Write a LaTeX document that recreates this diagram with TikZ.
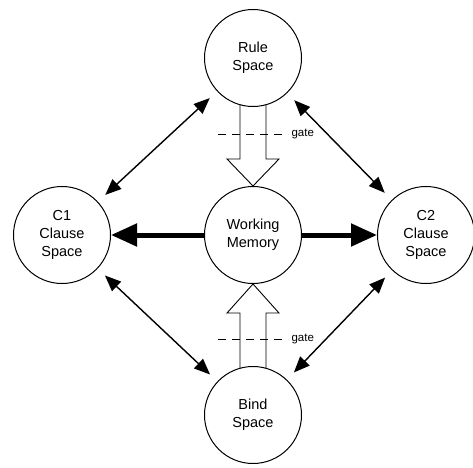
\documentclass[tikz,border=0pt]{standalone}
\usepackage{fontspec}
\setmainfont{Liberation Sans}
\usetikzlibrary{arrows.meta,calc}

\begin{document}
\begin{tikzpicture}[x=1pt,y=1pt,
  space/.style={circle,draw,line width=1pt,minimum size=97pt,inner sep=0pt,
                align=center,font=\fontsize{14.5}{18}\selectfont},
  link/.style={{Triangle[length=16pt,width=13pt]}-{Triangle[length=16pt,width=13pt]},
               line width=1.4pt,shorten <=10pt,shorten >=10pt},
  flow/.style={-{Triangle[length=26pt,width=22pt]},line width=5pt},
  block/.style={line width=0.9pt},
  gateline/.style={dash pattern=on 8pt off 6pt,line width=0.9pt},
  gatelabel/.style={right,font=\fontsize{11.5}{14}\selectfont}]
\useasboundingbox (0,0) rectangle (473,467);
% spaces
\node[space] (rule) at (253,409) {Rule\\Space};
\node[space] (wm)   at (253,232) {Working\\Memory};
\node[space] (c1)   at (62,232)  {C1\\Clause\\Space};
\node[space] (c2)   at (426,232) {C2\\Clause\\Space};
\node[space] (bind) at (253,52)  {Bind\\Space};
% working memory to clause spaces
\draw[flow] (wm) -- (c1);
\draw[flow] (wm) -- (c2);
% two-way links
\draw[link] (c1) -- (rule);
\draw[link] (c2) -- (rule);
\draw[link] (c1) -- (bind);
\draw[link] (c2) -- (bind);
% hollow arrow: rule space into working memory
\draw[block] ($(rule.center)+(-13,-46.7)$) |- ($(wm.north)+(-26,27)$) -- (wm.north)
  -- ($(wm.north)+(26,27)$) -| ($(rule.center)+(13,-46.7)$);
\draw[gateline] ($(wm.north)+(-35,52)$) -- ++(70,0) coordinate (g1);
\node[gatelabel] (gate1) at (g1) {gate};
% hollow arrow: bind space into working memory
\draw[block] ($(bind.center)+(-13,46.7)$) |- ($(wm.south)+(-26,-29)$) -- (wm.south)
  -- ($(wm.south)+(26,-29)$) -| ($(bind.center)+(13,46.7)$);
\draw[gateline] ($(wm.south)+(-35,-55)$) -- ++(70,0) coordinate (g2);
\node[gatelabel] (gate2) at (g2) {gate};
\end{tikzpicture}
\end{document}
